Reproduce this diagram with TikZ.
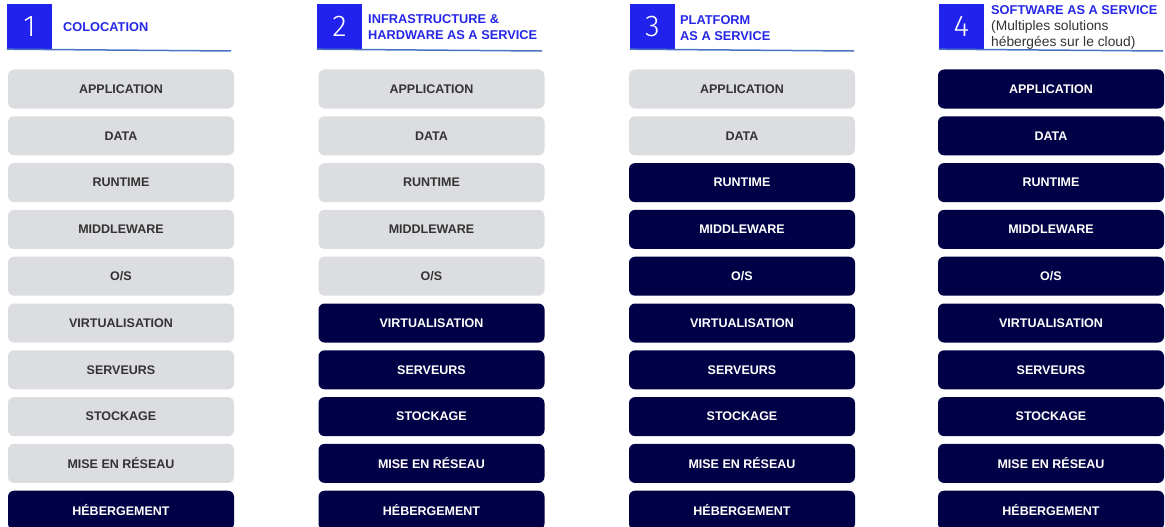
\documentclass[tikz,border=0pt]{standalone}
\usepackage{fontspec}
\setmainfont{Liberation Sans}
\newfontfamily\numfont{Fira Sans Light}
\definecolor{LayerGray}{HTML}{DCDDE0}
\definecolor{LayerNavy}{HTML}{000046}
\definecolor{LayerText}{HTML}{333333}
\definecolor{TitleBlue}{HTML}{2626E8}
\definecolor{SquareBlue}{HTML}{2222EE}
\definecolor{RuleBlue}{HTML}{4A73C4}

\begin{document}
\begin{tikzpicture}[x=1pt, y=-1pt,
  layer/.style={rounded corners=6pt, minimum width=226pt, minimum height=39pt, inner sep=0pt, font=\fontsize{12.5}{14}\selectfont\bfseries},
  own/.style={layer, fill=LayerGray, text=LayerText},
  hosted/.style={layer, fill=LayerNavy, text=white},
  numbox/.style={fill=SquareBlue, text=white, minimum size=45pt, inner sep=0pt, font=\numfont\fontsize{30}{30}\selectfont},
  title/.style={anchor=west, align=left, inner sep=0pt, text=TitleBlue, font=\fontsize{12.8}{16}\selectfont\bfseries},
  rule/.style={RuleBlue, line width=1.5pt}]
\useasboundingbox (0,0) rectangle (1165,527);

% headers
\node[numbox] (sq1) at (29.5,26.5) {1};
\node[numbox] (sq2) at (339.5,26.5) {2};
\node[numbox] (sq3) at (652.5,26.5) {3};
\node[numbox] (sq4) at (961.5,26.5) {4};
\node[title] (tt1) at (63,27) {COLOCATION};
\node[title] (tt2) at (368,27) {INFRASTRUCTURE \&\\HARDWARE AS A SERVICE};
\node[title] (tt3) at (680,28) {PLATFORM\\AS A SERVICE};
\node[title] (tt4) at (991,27) {SOFTWARE AS A SERVICE\\{\mdseries\color{LayerText}\fontsize{13.8}{16}\selectfont (Multiples solutions}\\{\mdseries\color{LayerText}\fontsize{13.8}{16}\selectfont hébergées sur le cloud)}};
\coordinate (end1) at (231,51);
\coordinate (end2) at (542,51);
\coordinate (end3) at (854,51);
\coordinate (end4) at (1163,51);
\draw[rule] (sq1.south west) -- (end1);
\draw[rule] (sq2.south west) -- (end2);
\draw[rule] (sq3.south west) -- (end3);
\draw[rule] (sq4.south west) -- (end4);

% colocation
\node[own] (app1) at (121,89) {APPLICATION};
\node[own] (data1) at (121,135.8) {DATA};
\node[own] (run1) at (121,182.6) {RUNTIME};
\node[own] (mid1) at (121,229.4) {MIDDLEWARE};
\node[own] (os1) at (121,276.2) {O/S};
\node[own] (virt1) at (121,323) {VIRTUALISATION};
\node[own] (serv1) at (121,369.8) {SERVEURS};
\node[own] (stock1) at (121,416.6) {STOCKAGE};
\node[own] (net1) at (121,463.4) {MISE EN RÉSEAU};
\node[hosted] (host1) at (121,510.2) {HÉBERGEMENT};

% infrastructure as a service
\node[own] (app2) at (431.5,89) {APPLICATION};
\node[own] (data2) at (431.5,135.8) {DATA};
\node[own] (run2) at (431.5,182.6) {RUNTIME};
\node[own] (mid2) at (431.5,229.4) {MIDDLEWARE};
\node[own] (os2) at (431.5,276.2) {O/S};
\node[hosted] (virt2) at (431.5,323) {VIRTUALISATION};
\node[hosted] (serv2) at (431.5,369.8) {SERVEURS};
\node[hosted] (stock2) at (431.5,416.6) {STOCKAGE};
\node[hosted] (net2) at (431.5,463.4) {MISE EN RÉSEAU};
\node[hosted] (host2) at (431.5,510.2) {HÉBERGEMENT};

% platform as a service
\node[own] (app3) at (742,89) {APPLICATION};
\node[own] (data3) at (742,135.8) {DATA};
\node[hosted] (run3) at (742,182.6) {RUNTIME};
\node[hosted] (mid3) at (742,229.4) {MIDDLEWARE};
\node[hosted] (os3) at (742,276.2) {O/S};
\node[hosted] (virt3) at (742,323) {VIRTUALISATION};
\node[hosted] (serv3) at (742,369.8) {SERVEURS};
\node[hosted] (stock3) at (742,416.6) {STOCKAGE};
\node[hosted] (net3) at (742,463.4) {MISE EN RÉSEAU};
\node[hosted] (host3) at (742,510.2) {HÉBERGEMENT};

% software as a service
\node[hosted] (app4) at (1051,89) {APPLICATION};
\node[hosted] (data4) at (1051,135.8) {DATA};
\node[hosted] (run4) at (1051,182.6) {RUNTIME};
\node[hosted] (mid4) at (1051,229.4) {MIDDLEWARE};
\node[hosted] (os4) at (1051,276.2) {O/S};
\node[hosted] (virt4) at (1051,323) {VIRTUALISATION};
\node[hosted] (serv4) at (1051,369.8) {SERVEURS};
\node[hosted] (stock4) at (1051,416.6) {STOCKAGE};
\node[hosted] (net4) at (1051,463.4) {MISE EN RÉSEAU};
\node[hosted] (host4) at (1051,510.2) {HÉBERGEMENT};
\end{tikzpicture}
\end{document}
